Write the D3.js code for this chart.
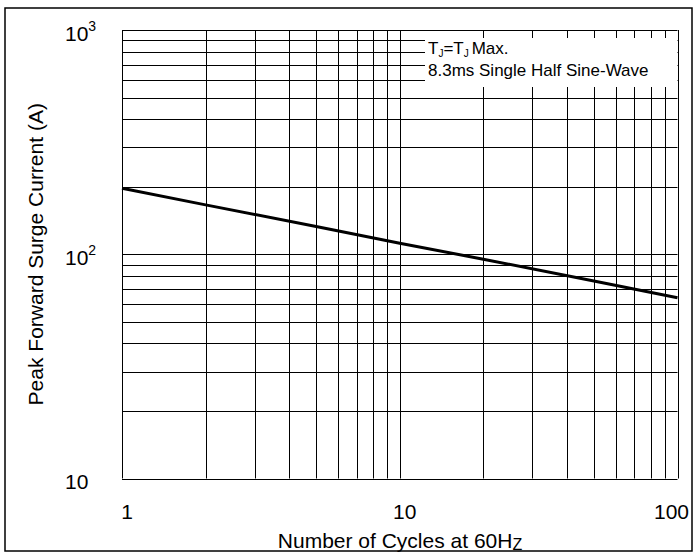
<!DOCTYPE html>
<html lang="en">
<head>
    <meta charset="UTF-8">
    <script src="https://cdn.jsdelivr.net/npm/d3@7"></script>
    <title>Peak Forward Surge Current</title>
    <style>
        body { margin: 0; background: #fff; }
        text { font-family: Arial, "Liberation Sans", sans-serif; fill: #000; }
    </style>
</head>
<body>
    <svg id="chart" width="697" height="553"></svg>
    <script>
        // curve
        const cycles = [1, 2, 5, 10, 20, 50, 100];
        const surgeCurrent = [197, 166, 133, 112, 95, 76, 64];

        const xGridValues = [1, 2, 3, 4, 5, 6, 7, 8, 9, 10, 20, 30, 40, 50, 60, 70, 80, 90, 100];
        const yGridValues = [10, 20, 30, 40, 50, 60, 70, 80, 90, 100, 200, 300, 400, 500, 600, 700, 800, 900, 1000];
        const xTickValues = [1, 10, 100];
        const xTickLabels = ["1", "10", "100"];
        const yTickValues = [1000, 100, 10];
        const yTickBase = ["10", "10", "10"];
        const yTickSup = ["3", "2", ""];
        const legendLines = ["Max.", "8.3ms Single Half Sine-Wave"];

        const plot = { left: 122, right: 677.5, top: 30, bottom: 478.5 };

        const svg = d3.select("#chart");

        const x = d3.scaleLog().domain([1, 100]).range([plot.left, plot.right]);
        const y = d3.scaleLog().domain([10, 1000]).range([plot.bottom, plot.top]);

        // outer frame
        svg.append("rect")
            .attr("x", 5).attr("y", 8)
            .attr("width", 687).attr("height", 543)
            .attr("fill", "none").attr("stroke", "#000").attr("stroke-width", 1.5);

        // grid
        svg.append("g").selectAll("line")
            .data(xGridValues)
            .enter().append("line")
            .attr("x1", d => Math.round(x(d)) + 0.5).attr("x2", d => Math.round(x(d)) + 0.5)
            .attr("y1", plot.top).attr("y2", plot.bottom)
            .attr("stroke", "#000").attr("stroke-width", 1);

        svg.append("g").selectAll("line")
            .data(yGridValues)
            .enter().append("line")
            .attr("y1", d => Math.round(y(d)) + 0.5).attr("y2", d => Math.round(y(d)) + 0.5)
            .attr("x1", plot.left).attr("x2", plot.right)
            .attr("stroke", "#000").attr("stroke-width", 1);

        // legend box covers the grid
        const lg = svg.append("g");
        lg.append("rect")
            .attr("x", 425).attr("y", 38)
            .attr("width", 252).attr("height", 49)
            .attr("fill", "#fff");
        const l1 = lg.append("text").attr("x", 428).attr("y", 54).style("font-size", "17px");
        l1.append("tspan").text("T");
        l1.append("tspan").attr("dy", 3).style("font-size", "10px").text("J");
        l1.append("tspan").attr("dy", -3).text("=T");
        l1.append("tspan").attr("dy", 3).style("font-size", "10px").text("J");
        l1.append("tspan").attr("dy", -3).attr("dx", 3).text(legendLines[0]);
        lg.append("text").attr("x", 428).attr("y", 76).style("font-size", "17px").text(legendLines[1]);

        // the surge curve
        const line = d3.line().x((d, i) => x(cycles[i])).y(d => y(d));
        svg.append("path")
            .datum(surgeCurrent)
            .attr("d", line)
            .attr("fill", "none").attr("stroke", "#000").attr("stroke-width", 3);

        // y tick labels
        const yl = svg.append("g");
        yTickValues.forEach((v, i) => {
            const t = yl.append("text")
                .attr("x", 65).attr("y", y(v) + 10.5)
                .style("font-size", "21px");
            t.append("tspan").text(yTickBase[i]);
            if (yTickSup[i]) {
                t.append("tspan").attr("dy", -10).style("font-size", "14px").text(yTickSup[i]);
            }
        });

        // x tick labels
        svg.append("g").selectAll("text")
            .data(xTickValues)
            .enter().append("text")
            .attr("x", (d, i) => x(d) + (i === 2 ? -6 : 5))
            .attr("y", 519)
            .attr("text-anchor", "middle")
            .style("font-size", "21px")
            .text((d, i) => xTickLabels[i]);

        // axis titles
        const xt = svg.append("text")
            .attr("x", 400).attr("y", 548)
            .attr("text-anchor", "middle")
            .style("font-size", "21px");
        xt.append("tspan").text("Number of Cycles at 60H");
        xt.append("tspan").attr("dy", 2).style("font-size", "16px").text("Z");

        svg.append("text")
            .attr("transform", "translate(43," + (plot.top + plot.bottom) / 2 + ") rotate(-90)")
            .attr("text-anchor", "middle")
            .style("font-size", "21px")
            .text("Peak Forward Surge Current (A)");
    </script>
</body>
</html>
